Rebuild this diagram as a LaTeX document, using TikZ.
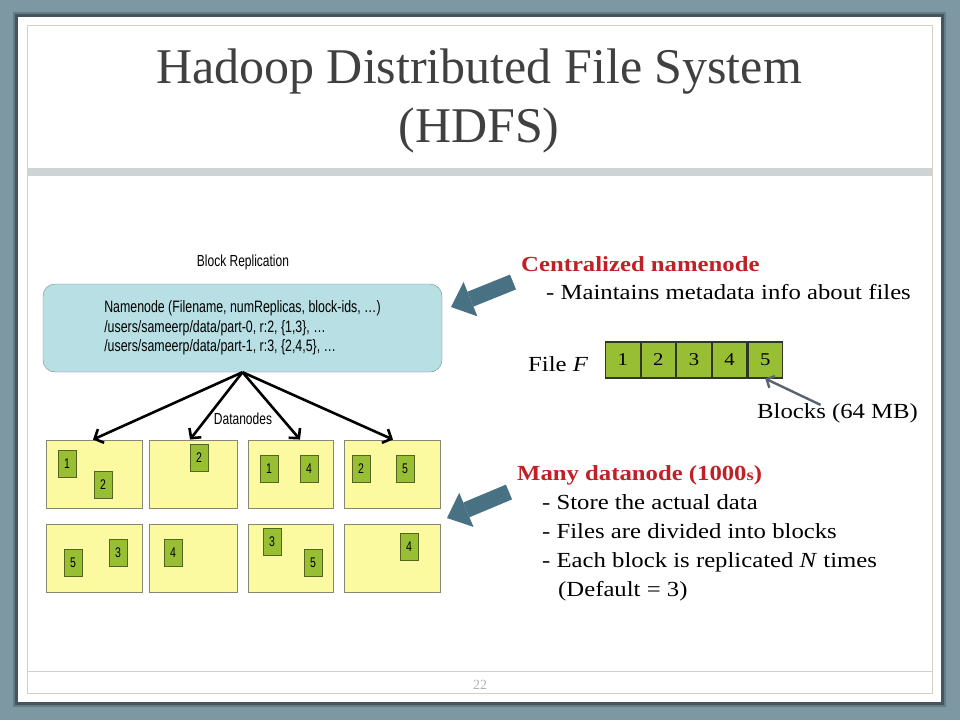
\documentclass[tikz,border=0pt]{standalone}
\usepackage{fontspec}
\setmainfont{Liberation Serif}
\newfontfamily\bodyfont[FakeStretch=1.15]{Liberation Serif}
\newfontfamily\diagfont[FakeStretch=0.75]{Liberation Sans}
\usetikzlibrary{arrows.meta}
\definecolor{slate}{RGB}{125,152,163}
\definecolor{slatedark}{RGB}{100,122,132}
\definecolor{titlegray}{RGB}{64,64,64}
\definecolor{bandgray}{RGB}{206,211,211}
\definecolor{framebeige}{RGB}{212,208,198}
\definecolor{nnfill}{RGB}{184,223,228}
\definecolor{nnedge}{RGB}{110,138,143}
\definecolor{dnfill}{RGB}{252,250,160}
\definecolor{dnedge}{RGB}{135,135,115}
\definecolor{blkgreen}{RGB}{152,190,52}
\definecolor{blkedge}{RGB}{85,100,30}
\definecolor{fileedge}{RGB}{45,55,35}
\definecolor{pointer}{RGB}{72,113,131}
\definecolor{grayarrow}{RGB}{90,100,110}
\definecolor{hdred}{RGB}{192,32,38}

\begin{document}
\begin{tikzpicture}[x=1pt, y=-1pt,
    diag/.style={font=\diagfont\fontsize{16}{19.5}\selectfont, inner sep=0pt},
    body/.style={font=\bodyfont\fontsize{21.5}{29}\selectfont, anchor=base west, inner sep=0pt},
    redhead/.style={body, text=hdred, font=\bodyfont\bfseries\fontsize{21.5}{29}\selectfont},
    nnbox/.style={draw=nnedge, fill=nnfill, rounded corners=12pt, minimum width=399pt,
        minimum height=88pt, align=left, font=\diagfont\fontsize{16.5}{19.5}\selectfont},
    dnbox/.style={draw=dnedge, fill=dnfill, minimum height=68pt, inner sep=0pt, line width=0.9pt},
    rep/.style={draw=blkedge, fill=blkgreen, minimum width=18pt, minimum height=27pt,
        inner sep=0pt, line width=0.9pt, font=\diagfont\fontsize{14}{14}\selectfont},
    fblk/.style={draw=fileedge, fill=blkgreen, minimum width=34.6pt, minimum height=36pt,
        inner sep=0pt, line width=1.2pt, font=\bodyfont\fontsize{18}{18}\selectfont},
    fan/.style={line width=2.6pt, -{Straight Barb[length=7pt, width=15pt]}},
    bigptr/.style={pointer, line width=16pt, -{Triangle[width=37pt, length=21pt, line width=0pt]}}]
  \useasboundingbox (0,0) rectangle (960,720);
  \fill[slate] (0,0) rectangle (960,720);
  \fill[slatedark] (13,12) rectangle (946,707);
  \fill[slatedark!70!black] (15,14) rectangle (944,705);
  \fill[white] (18,17) rectangle (941,702);
  \draw[framebeige, line width=0.9pt] (27,25) rectangle (932,693);
  \fill[bandgray] (27,168) rectangle (932,176);
  \draw[framebeige, line width=0.9pt] (27,671) -- (932,671);

  \node[titlegray, font=\fontsize{50}{58}\selectfont, anchor=base] (title) at (479,83)
        {Hadoop Distributed File System};
  \node[titlegray, font=\fontsize{50}{58}\selectfont, anchor=base] (subtitle) at (479,142) {(HDFS)};
  \node[gray!60, font=\fontsize{14}{14}\selectfont, anchor=base] (page) at (480,689) {22};

  \node[diag, anchor=base] (replab) at (243,266) {Block Replication};
  \node[nnbox] (nn) at (242.5,328) {Namenode (Filename, numReplicas, block-ids, \ldots)\\
        /users/sameerp/data/part-0, r:2, \{1,3\}, \ldots\\
        /users/sameerp/data/part-1, r:3, \{2,4,5\}, \ldots};
  \node[diag, anchor=base] (dnlab) at (243,424) {Datanodes};

  \node[dnbox, minimum width=96pt] (dn1) at (94,474) {};
  \node[dnbox, minimum width=88pt] (dn2) at (193,474) {};
  \node[dnbox, minimum width=85pt] (dn3) at (290.5,474) {};
  \node[dnbox, minimum width=96pt] (dn4) at (392,474) {};
  \node[dnbox, minimum width=96pt] (dn5) at (94,558) {};
  \node[dnbox, minimum width=88pt] (dn6) at (193,558) {};
  \node[dnbox, minimum width=85pt] (dn7) at (290.5,558) {};
  \node[dnbox, minimum width=96pt] (dn8) at (392,558) {};

  \foreach \px/\py/\n [count=\i] in {67/464/1, 103/485/2, 199/458/2, 269/469/1, 309/469/4,
      361/469/2, 405/469/5, 73/563/5, 118/553/3, 173/553/4, 272/542/3, 313/563/5, 409/547/4}
    \node[rep] (r\i) at (\px,\py) {\n};

  \foreach \d/\dx in {dn1/-1, dn2/-3, dn3/9.5, dn4/1}
    \draw[fan] (nn.south) -- ([xshift=\dx pt]\d.north);

  \coordinate (nntail) at (513,282);
  \coordinate (nntip) at (451,307);
  \coordinate (dntail) at (509,492);
  \coordinate (dntip) at (447,518);
  \draw[bigptr] (nntail) -- (nntip);
  \draw[bigptr] (dntail) -- (dntip);

  \node[redhead] (nnhead) at (521,271) {Centralized namenode};
  \node[body] (nnline) at (546,299) {- Maintains metadata info about files};

  \node[body] (filelab) at (528,371) {File \textit{F}};
  \foreach \n in {1,...,5}
    \node[fblk] (b\n) at ({622.8+35.6*(\n-1)},360) {\n};
  \node[body] (blocks) at (757,418) {Blocks (64 MB)};
  \draw[grayarrow, line width=2.4pt, -{Straight Barb[length=6pt, width=13pt]}]
        ([xshift=-17pt, yshift=-2pt]blocks.north) -- (b5.south);

  \node[redhead] (dnhead) at (517,480) {Many datanode (1000{\fontsize{16}{16}\selectfont s})};
  \node[body] (dnline1) at (542,509) {- Store the actual data};
  \node[body] (dnline2) at (542,538) {- Files are divided into blocks};
  \node[body] (dnline3) at (542,567) {- Each block is replicated \textit{N} times};
  \node[body] (dnline4) at (558,596) {(Default = 3)};
\end{tikzpicture}
\end{document}
